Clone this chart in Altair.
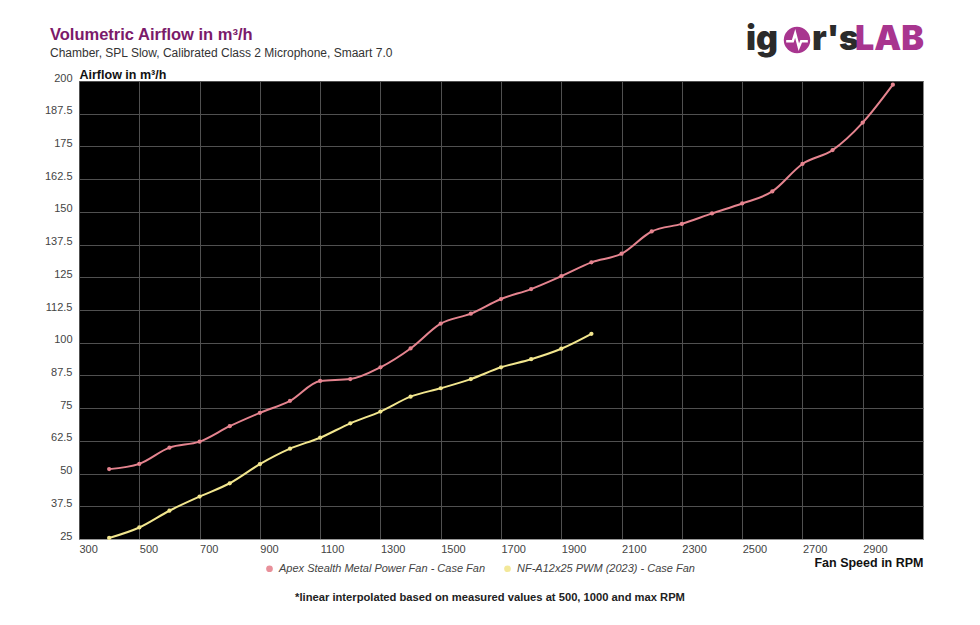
import altair as alt
import pandas as pd

# ---- data ----
rpm_apex = [400, 500, 600, 700, 800, 900, 1000, 1100, 1200, 1300, 1400, 1500, 1600, 1700,
            1800, 1900, 2000, 2100, 2200, 2300, 2400, 2500, 2600, 2700, 2800, 2900, 3000]
airflow_apex = [51.7, 53.7, 59.9, 62.2, 68.1, 73.2, 77.8, 85.4, 86.1, 90.6, 97.8, 107.3, 111.1, 116.7,
                120.5, 125.4, 130.7, 134.0, 142.5, 145.4, 149.4, 153.2, 157.8, 168.3, 173.6, 184.1, 198.6]
rpm_nf = [400, 500, 600, 700, 800, 900, 1000, 1100, 1200, 1300, 1400, 1500, 1600, 1700,
          1800, 1900, 2000]
airflow_nf = [25.4, 29.4, 35.8, 41.2, 46.3, 53.6, 59.5, 63.7, 69.2, 73.7, 79.4, 82.6, 86.1, 90.6,
              93.7, 97.7, 103.4]

series_names = ["Apex Stealth Metal Power Fan - Case Fan", "NF-A12x25 PWM (2023) - Case Fan"]
series_colors = ["#e5848f", "#f2e68e"]

x_ticks = [300, 500, 700, 900, 1100, 1300, 1500, 1700, 1900, 2100, 2300, 2500, 2700, 2900]
y_ticks = [25, 37.5, 50, 62.5, 75, 87.5, 100, 112.5, 125, 137.5, 150, 162.5, 175, 187.5, 200]

title_text = "Volumetric Airflow in m³/h"
subtitle_text = "Chamber, SPL Slow, Calibrated Class 2 Microphone, Smaart 7.0"
footnote_text = "*linear interpolated based on measured values at 500, 1000 and max RPM"

rows = [{"rpm": r, "airflow": a, "series": series_names[0]} for r, a in zip(rpm_apex, airflow_apex)]
rows += [{"rpm": r, "airflow": a, "series": series_names[1]} for r, a in zip(rpm_nf, airflow_nf)]
df = pd.DataFrame(rows)

W, H = 844, 458
FONT = "Liberation Sans"

legend = alt.Legend(
    title=None, orient="none", legendX=185, legendY=482, direction="horizontal",
    labelFontStyle="italic", labelFontSize=11, labelColor="#444", labelFont=FONT,
    labelLimit=0, symbolType="circle", symbolSize=45, columnPadding=16, symbolStrokeWidth=0,
    symbolOpacity=0.9,
)
color = alt.Color("series:N", scale=alt.Scale(domain=series_names, range=series_colors), legend=legend)

x = alt.X(
    "rpm:Q",
    scale=alt.Scale(domain=[300, 3100], nice=False, zero=False),
    axis=alt.Axis(
        values=x_ticks, format="d", title="Fan Speed in RPM", labelAlign="left", labelPadding=4,
        labelFontSize=11, labelColor="#444", ticks=False, gridColor="#505050",
        domainColor="#999", labelFlush=False,
        titleX=W, titleY=27, titleAlign="right", titleBaseline="alphabetic",
        titleFontSize=12.5, titleFontWeight="bold", titleColor="#111",
    ),
)
y = alt.Y(
    "airflow:Q",
    scale=alt.Scale(domain=[25, 200], nice=False, zero=False),
    axis=alt.Axis(
        values=y_ticks, format=".1~f", title="Airflow in m³/h", titleAngle=0, titleX=0,
        titleY=-3, titleAlign="left", titleBaseline="alphabetic", titleFontSize=12.5,
        titleFontWeight="bold", titleColor="#111", labelBaseline="alphabetic",
        labelPadding=7, labelFontSize=11, labelColor="#444", ticks=False,
        gridColor="#505050", domain=False, labelFlush=False,
    ),
)

points = alt.Chart(df).mark_circle(size=18, opacity=1).encode(x=x, y=y, color=color)
lines = alt.Chart(df).mark_line(interpolate="monotone", strokeWidth=2).encode(x=x, y=y, color=color)

def text_layer(txt, xpos, ypos, size, color_, weight="normal", align="left", baseline="alphabetic", font=FONT):
    return alt.Chart(pd.DataFrame({"t": [txt]})).mark_text(
        align=align, baseline=baseline, fontSize=size, fontWeight=weight, color=color_, font=font
    ).encode(x=alt.value(xpos), y=alt.value(ypos), text="t:N")

title = text_layer(title_text, -29, -41, 16.5, "#7b1a6a", weight="bold")
subtitle = text_layer(subtitle_text, -29, -24, 12, "#333")
footnote = text_layer(footnote_text, 411, 520, 11.2, "#222", weight="bold", align="center")

# logo "igor'sLAB"
logo_ig = text_layer("ig", 667, -31, 34, "#2b2b2b", weight=900, font="Inter")
logo_rs = text_layer("r's", 733, -31, 34, "#2b2b2b", weight=900, font="Inter")
logo_lab = text_layer("LAB", 845, -31, 34, "#a8358f", weight=900, align="right", font="Inter")
logo_o = alt.Chart(pd.DataFrame({"k": [0]})).mark_point(
    filled=True, shape="circle", size=700, color="#a8358f", opacity=1
).encode(x=alt.value(718), y=alt.value(-41))
logo_beat = alt.Chart(pd.DataFrame({"k": [0]})).mark_point(
    filled=False, shape="M-0.9,0.1 L-0.35,0.1 L-0.15,-0.55 L0.15,0.6 L0.35,0.1 L0.9,0.1",
    size=580, color="white", strokeWidth=2.4, opacity=1
).encode(x=alt.value(718), y=alt.value(-41))

chart = alt.layer(
    points, lines, title, subtitle, footnote, logo_ig, logo_o, logo_beat, logo_rs, logo_lab
).properties(
    width=W, height=H,
    autosize=alt.AutoSizeParams(type="none"),
    padding={"left": 71, "top": 73, "right": 40, "bottom": 75},
    background="white",
).configure(font=FONT).configure_view(fill="black", stroke="#888", strokeWidth=1)

chart.save("out.html", embed_options={"renderer": "svg", "actions": False})
